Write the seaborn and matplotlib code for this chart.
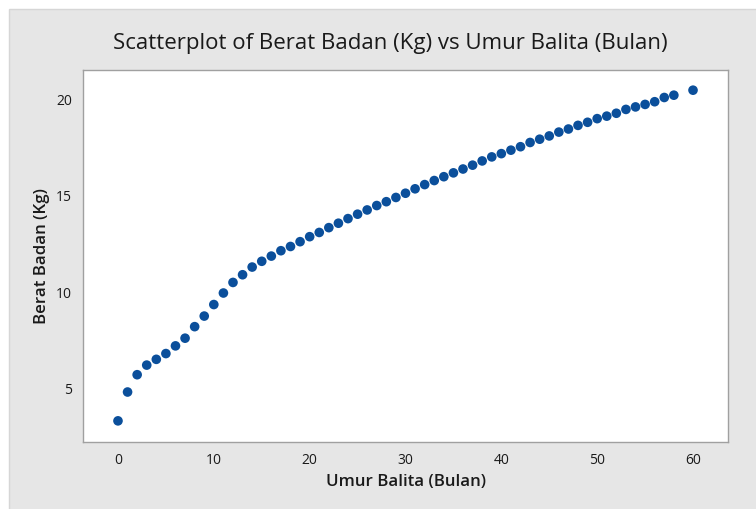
import matplotlib
matplotlib.use("Agg")
import matplotlib.pyplot as plt
import seaborn as sns
import pandas as pd
from matplotlib.patches import Rectangle

umur = list(range(0, 59)) + [60]
berat = [3.3, 4.8, 5.7, 6.2, 6.5, 6.8, 7.2, 7.6, 8.2, 8.75,
         9.35, 9.95, 10.5, 10.9, 11.3, 11.6, 11.87, 12.15, 12.37, 12.62,
         12.88, 13.1, 13.35, 13.58, 13.82, 14.05, 14.27, 14.5, 14.7, 14.92,
         15.14, 15.37, 15.59, 15.8, 16.0, 16.2, 16.4, 16.6, 16.82, 17.03,
         17.2, 17.38, 17.56, 17.78, 17.95, 18.12, 18.32, 18.48, 18.67, 18.83,
         19.02, 19.15, 19.3, 19.5, 19.63, 19.76, 19.9, 20.12, 20.24, 20.5]

df = pd.DataFrame({"Umur Balita (Bulan)": umur, "Berat Badan (Kg)": berat})

sns.set_style("white")
plt.rcParams["font.family"] = ["Open Sans", "DejaVu Sans"]

fig = plt.figure(figsize=(7.56, 5.09), dpi=100)
fig.patch.set_facecolor("white")
# grey Minitab-style panel behind the plot
fig.add_artist(Rectangle((9 / 756, -0.01), 1, 1 - 9 / 509 + 0.01, transform=fig.transFigure,
                         facecolor="#e6e6e6", edgecolor="#d6d6d6", lw=1, zorder=-5))

ax = fig.add_axes([83 / 756, 1 - 442 / 509, (728 - 83) / 756, (442 - 70) / 509])
ax.set_zorder(2)
ax.set_facecolor("white")
sns.scatterplot(data=df, x="Umur Balita (Bulan)", y="Berat Badan (Kg)", ax=ax,
                color="#0b4f9b", s=48, edgecolor="none", linewidth=0)

ax.set_xlim(-3.65, 63.65)
ax.set_ylim(2.2, 21.55)
ax.set_xticks([0, 10, 20, 30, 40, 50, 60])
ax.set_yticks([5, 10, 15, 20])
for sp in ax.spines.values():
    sp.set_color("#a0a0a0")
    sp.set_linewidth(1)
ax.tick_params(axis="both", direction="out", length=4, width=0.8, color="#909090",
               labelsize=10, labelcolor="#1a1a1a", pad=4)
ax.set_xlabel("")
ax.set_ylabel("")

fig.text(0.516, 1 - 43 / 509, "Scatterplot of Berat Badan (Kg) vs Umur Balita (Bulan)",
         ha="center", va="center", fontsize=16, color="#1a1a1a")
fig.text(406 / 756, 1 - 482 / 509, "Umur Balita (Bulan)", ha="center", va="center",
         fontsize=12.2, fontweight="semibold", color="#1a1a1a")
fig.text(42 / 756, 1 - 256 / 509, "Berat Badan (Kg)", ha="center", va="center",
         rotation=90, fontsize=12.2, fontweight="semibold", color="#1a1a1a")

fig.savefig("out.png", dpi=100)
